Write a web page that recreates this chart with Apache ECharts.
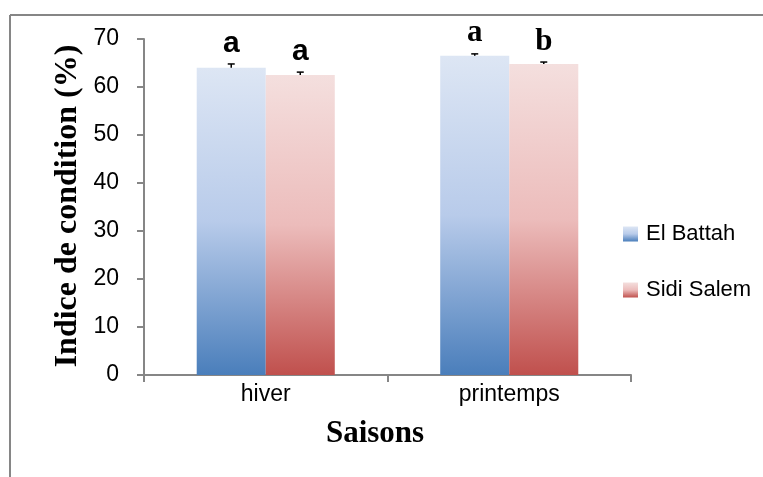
<!DOCTYPE html>
<html>
<head>
<meta charset="utf-8">
<script src="https://cdn.jsdelivr.net/npm/echarts@6/dist/echarts.min.js"></script>
<style>html,body{margin:0;padding:0;background:#fff;}#c{width:763px;height:477px;}</style>
</head>
<body>
<div id="c"></div>
<script>
const categories = ['hiver', 'printemps'];
const seriesNames = ['El Battah', 'Sidi Salem'];
const elBattah = [64.0, 66.5];
const sidiSalem = [62.5, 64.8];
const elBattahErr = [0.8, 0.4];
const sidiSalemErr = [0.6, 0.4];
const elBattahLetters = ['a', 'a'];
const sidiSalemLetters = ['a', 'b'];
const yTicks = [0, 10, 20, 30, 40, 50, 60, 70];

const blueGrad = new echarts.graphic.LinearGradient(0, 0, 0, 1, [
  {offset: 0, color: '#dde6f4'},
  {offset: 0.5, color: '#b8cbea'},
  {offset: 1, color: '#4a7ebb'}
]);
const redGrad = new echarts.graphic.LinearGradient(0, 0, 0, 1, [
  {offset: 0, color: '#f4dfde'},
  {offset: 0.5, color: '#ecbcbb'},
  {offset: 1, color: '#c0504d'}
]);

const catGap = 0.433;
function errorSeries(values, errs, letters, side, letterFonts) {
  return {
    type: 'custom',
    z: 10,
    silent: true,
    data: values.map((v, i) => [i, v, errs[i], letters[i]]),
    renderItem: function (params, api) {
      const i = api.value(0);
      const v = api.value(1);
      const e = api.value(2);
      const band = api.size([1, 0])[0];
      const barW = band * (1 - catGap) / 2;
      const c = api.coord([i, v]);
      const x = c[0] + side * barW / 2;
      const yTop = api.coord([i, v + e])[1];
      const yBar = c[1];
      const style = {stroke: '#000', lineWidth: 1.5};
      return {
        type: 'group',
        children: [
          {type: 'line', shape: {x1: x, y1: yBar, x2: x, y2: yTop}, style: style},
          {type: 'line', shape: {x1: x - 3.5, y1: yTop, x2: x + 3.5, y2: yTop}, style: style},
          {type: 'text', style: {
            text: letters[i], x: x, y: yTop - 5,
            textAlign: 'center', textVerticalAlign: 'bottom',
            font: letterFonts[i], fill: '#000'
          }}
        ]
      };
    }
  };
}
const letterFonts = ['bold 30px "Liberation Sans", Arial, sans-serif', 'bold 31px "Liberation Serif", "Times New Roman", serif'];
const tickFont = '"Liberation Sans", Arial, sans-serif';

const chart = echarts.init(document.getElementById('c'), null, {renderer: 'canvas'});
chart.setOption({
  animation: false,
  backgroundColor: '#fff',
  grid: {left: 144, top: 39, right: 132, bottom: 102, containLabel: false},
  legend: {
    orient: 'vertical',
    left: 618,
    top: 218,
    itemWidth: 15,
    itemHeight: 15,
    itemGap: 34,
    icon: 'rect',
    data: seriesNames,
    textStyle: {fontFamily: tickFont, fontSize: 22, color: '#000', padding: [0, 0, 0, 3]}
  },
  xAxis: {
    type: 'category',
    data: categories,
    axisLine: {lineStyle: {color: '#868686', width: 2}},
    axisTick: {show: true, length: 7, lineStyle: {color: '#868686', width: 2}},
    axisLabel: {fontFamily: tickFont, fontSize: 23, color: '#000', margin: 8}
  },
  yAxis: {
    type: 'value',
    min: 0, max: 70, interval: 10,
    splitLine: {show: false},
    axisLine: {show: true, lineStyle: {color: '#868686', width: 2}},
    axisTick: {show: true, length: 7, lineStyle: {color: '#868686', width: 2}},
    axisLabel: {fontFamily: tickFont, fontSize: 23, color: '#000', margin: 25,
      formatter: v => yTicks.includes(v) ? String(v) : ''}
  },
  graphic: [
    {type: 'line', shape: {x1: 10, y1: 15, x2: 763, y2: 15}, style: {stroke: '#868686', lineWidth: 2}},
    {type: 'line', shape: {x1: 10, y1: 15, x2: 10, y2: 477}, style: {stroke: '#868686', lineWidth: 2}},
    {type: 'text', x: 375, y: 434, style: {text: 'Saisons', textAlign: 'center', textVerticalAlign: 'middle',
      font: 'bold 31px "Liberation Serif", "Times New Roman", serif', fill: '#000'}},
    {type: 'text', x: 68, y: 206, rotation: Math.PI / 2, style: {text: 'Indice de condition (%)', textAlign: 'center', textVerticalAlign: 'middle',
      font: 'bold 32px "Liberation Serif", "Times New Roman", serif', fill: '#000'}}
  ],
  series: [
    {name: seriesNames[0], type: 'bar', data: elBattah, barGap: '0%', barCategoryGap: (catGap * 100) + '%',
      itemStyle: {color: blueGrad}},
    {name: seriesNames[1], type: 'bar', data: sidiSalem, barGap: '0%', barCategoryGap: (catGap * 100) + '%',
      itemStyle: {color: redGrad}},
    errorSeries(elBattah, elBattahErr, elBattahLetters, -1, letterFonts),
    errorSeries(sidiSalem, sidiSalemErr, sidiSalemLetters, 1, letterFonts)
  ]
});
</script>
</body>
</html>
